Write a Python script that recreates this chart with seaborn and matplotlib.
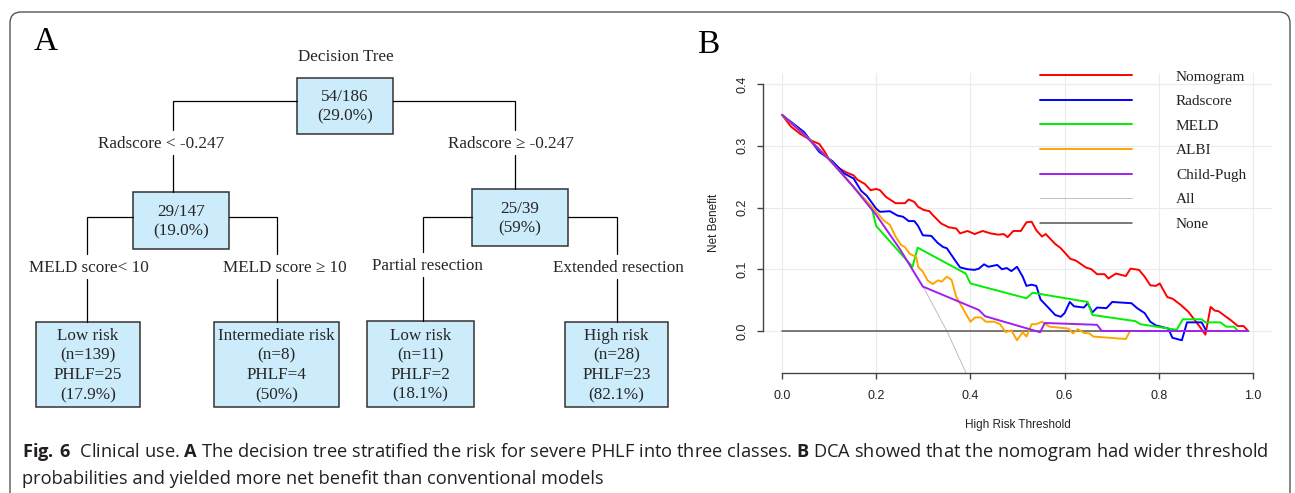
import matplotlib
matplotlib.use("Agg")
import matplotlib.pyplot as plt
from matplotlib.patches import FancyBboxPatch, Rectangle
from matplotlib.lines import Line2D
import numpy as np
import pandas as pd
import seaborn as sns

# ---------------- panel B: decision curves ----------------
nomogram_t = [0.000, 0.019, 0.039, 0.063, 0.079, 0.091, 0.099, 0.116, 0.136, 0.152, 0.160, 0.176,
              0.188, 0.200, 0.208, 0.221, 0.241, 0.261, 0.269, 0.281, 0.289, 0.301, 0.313, 0.321,
              0.338, 0.354, 0.370, 0.378, 0.394, 0.409, 0.426, 0.443, 0.459, 0.471, 0.479, 0.491,
              0.507, 0.519, 0.530, 0.540, 0.552, 0.560, 0.580, 0.592, 0.612, 0.624, 0.645, 0.657,
              0.669, 0.685, 0.693, 0.709, 0.730, 0.740, 0.758, 0.770, 0.782, 0.794, 0.802, 0.818,
              0.830, 0.847, 0.863, 0.887, 0.899, 0.910, 0.919, 0.927, 0.952, 0.968, 0.980, 0.990]
nomogram_nb = [0.350, 0.331, 0.319, 0.308, 0.303, 0.290, 0.279, 0.266, 0.257, 0.252, 0.245, 0.238,
               0.228, 0.230, 0.228, 0.217, 0.207, 0.207, 0.213, 0.209, 0.201, 0.196, 0.194, 0.187,
               0.174, 0.168, 0.166, 0.158, 0.162, 0.157, 0.162, 0.158, 0.156, 0.157, 0.152, 0.162,
               0.162, 0.176, 0.177, 0.163, 0.153, 0.157, 0.141, 0.134, 0.117, 0.114, 0.103, 0.100,
               0.092, 0.092, 0.085, 0.093, 0.089, 0.101, 0.099, 0.088, 0.074, 0.073, 0.077, 0.055,
               0.052, 0.042, 0.031, 0.007, -0.006, 0.039, 0.033, 0.032, 0.018, 0.008, 0.008, 0.000]

radscore_t = [0.000, 0.047, 0.079, 0.107, 0.132, 0.152, 0.168, 0.180, 0.200, 0.208, 0.229, 0.245,
              0.257, 0.269, 0.281, 0.289, 0.299, 0.317, 0.330, 0.342, 0.350, 0.366, 0.378, 0.394,
              0.409, 0.418, 0.429, 0.438, 0.457, 0.467, 0.477, 0.487, 0.499, 0.511, 0.519, 0.530,
              0.540, 0.549, 0.564, 0.580, 0.592, 0.600, 0.611, 0.620, 0.641, 0.649, 0.659, 0.669,
              0.689, 0.701, 0.742, 0.754, 0.770, 0.782, 0.794, 0.820, 0.829, 0.849, 0.860, 0.891,
              0.901, 0.990]
radscore_nb = [0.350, 0.322, 0.290, 0.275, 0.255, 0.247, 0.227, 0.219, 0.198, 0.193, 0.194, 0.187,
               0.185, 0.178, 0.178, 0.170, 0.155, 0.154, 0.143, 0.136, 0.134, 0.116, 0.103, 0.100,
               0.099, 0.101, 0.108, 0.104, 0.107, 0.100, 0.102, 0.097, 0.104, 0.088, 0.073, 0.075,
               0.073, 0.051, 0.039, 0.026, 0.023, 0.029, 0.047, 0.040, 0.038, 0.045, 0.030, 0.038,
               0.037, 0.047, 0.045, 0.037, 0.029, 0.015, 0.009, 0.004, -0.011, -0.015, 0.014, 0.014,
               0.000, 0.000]

meld_t = [0.000, 0.050, 0.100, 0.150, 0.191, 0.200, 0.277, 0.288, 0.390, 0.400, 0.519, 0.532,
          0.649, 0.659, 0.750, 0.761, 0.838, 0.851, 0.891, 0.899, 0.931, 0.943, 0.960, 0.968, 0.990]
meld_nb = [0.350, 0.316, 0.278, 0.235, 0.198, 0.170, 0.104, 0.135, 0.093, 0.077, 0.053, 0.062,
           0.047, 0.026, 0.016, 0.011, 0.002, 0.019, 0.019, 0.014, 0.014, 0.007, 0.007, 0.000, 0.000]

albi_t = [0.000, 0.050, 0.100, 0.150, 0.191, 0.216, 0.229, 0.241, 0.253, 0.261, 0.271, 0.285,
          0.289, 0.299, 0.309, 0.320, 0.331, 0.339, 0.350, 0.360, 0.370, 0.386, 0.400, 0.410,
          0.422, 0.433, 0.451, 0.463, 0.475, 0.487, 0.499, 0.511, 0.519, 0.530, 0.540, 0.552,
          0.568, 0.608, 0.618, 0.628, 0.641, 0.653, 0.661, 0.730, 0.739, 0.990]
albi_nb = [0.350, 0.316, 0.278, 0.235, 0.201, 0.179, 0.172, 0.153, 0.139, 0.136, 0.125, 0.120,
           0.104, 0.096, 0.082, 0.076, 0.082, 0.080, 0.088, 0.083, 0.055, 0.034, 0.015, 0.022,
           0.022, 0.015, 0.015, 0.011, -0.002, 0.001, -0.015, -0.002, -0.009, 0.011, 0.011, 0.015,
           0.007, 0.004, -0.004, 0.003, -0.003, -0.004, -0.009, -0.013, 0.000, 0.000]

childpugh_t = [0.000, 0.050, 0.100, 0.150, 0.200, 0.250, 0.299, 0.418, 0.431, 0.548, 0.558,
               0.669, 0.679, 0.990]
childpugh_nb = [0.350, 0.316, 0.278, 0.235, 0.188, 0.133, 0.072, 0.034, 0.024, -0.002, 0.013,
                0.010, 0.000, 0.000]

all_t = [0.000, 0.050, 0.100, 0.150, 0.200, 0.250, 0.300, 0.350, 0.392]
all_nb = [0.350, 0.316, 0.278, 0.235, 0.188, 0.133, 0.071, 0.000, -0.070]

none_t = [0.000, 0.990]
none_nb = [0.000, 0.000]

models = ["All", "None", "Nomogram", "Radscore", "MELD", "ALBI", "Child-Pugh"]
legend_order = ["Nomogram", "Radscore", "MELD", "ALBI", "Child-Pugh", "All", "None"]
curves = {
    "Nomogram": (nomogram_t, nomogram_nb),
    "Radscore": (radscore_t, radscore_nb),
    "MELD": (meld_t, meld_nb),
    "ALBI": (albi_t, albi_nb),
    "Child-Pugh": (childpugh_t, childpugh_nb),
    "All": (all_t, all_nb),
    "None": (none_t, none_nb),
}
colors = {"Nomogram": "#FF0000", "Radscore": "#0000FF", "MELD": "#00EE00", "ALBI": "#FFA500",
          "Child-Pugh": "#A020F0", "All": "#BEBEBE", "None": "#555555"}
widths = {"Nomogram": 1.4, "Radscore": 1.4, "MELD": 1.4, "ALBI": 1.4, "Child-Pugh": 1.4,
          "All": 0.7, "None": 1.1}

frames = []
for m in models:
    t, nb = curves[m]
    assert len(t) == len(nb), m
    frames.append(pd.DataFrame({"model": m, "threshold": t, "net_benefit": nb}))
dca = pd.concat(frames, ignore_index=True)

# ---------------- panel A: decision tree ----------------
box_text = ["54/186\n(29.0%)", "29/147\n(19.0%)", "25/39\n(59%)",
            "Low risk\n(n=139)\nPHLF=25\n(17.9%)", "Intermediate risk\n(n=8)\nPHLF=4\n(50%)",
            "Low risk\n(n=11)\nPHLF=2\n(18.1%)", "High risk\n(n=28)\nPHLF=23\n(82.1%)"]
split_text = ["Radscore < -0.247", "Radscore \u2265 -0.247", "MELD score< 10",
              "MELD score \u2265 10", "Partial resection", "Extended resection"]
branch_parent = [0, 0, 1, 1, 2, 2]
branch_child = [1, 2, 3, 4, 5, 6]

# layout in figure pixels (x0, y0, x1, y1), y downward
box_rect = [(297, 78, 393, 134), (133, 192, 229, 249), (472, 189, 568, 246),
            (36, 322, 140, 407), (214, 322, 339, 407), (367, 321, 474, 407), (565, 322, 668, 407)]
branch_y = [101, 101, 217, 217, 217, 217]
branch_x = [173, 515, 87, 277, 423, 617]
split_xy = [(161, 144), (511, 144), (89, 268), (285, 268), (427, 266), (618, 268)]

caption1 = (r"$\mathbf{Fig.\,6}$  Clinical use. $\mathbf{A}$ The decision tree stratified the risk for "
            r"severe PHLF into three classes. $\mathbf{B}$ DCA showed that the nomogram had wider threshold")
caption2 = "probabilities and yielded more net benefit than conventional models"

# ---------------- drawing ----------------
sns.set_theme(style="white")
plt.rcParams["font.family"] = ["Liberation Serif", "DejaVu Serif"]
plt.rcParams["mathtext.fontset"] = "custom"
plt.rcParams["mathtext.rm"] = "Open Sans"
plt.rcParams["mathtext.bf"] = "Open Sans:bold"

W, H = 1295, 493
fig = plt.figure(figsize=(W / 100, H / 100), dpi=100)
fig.patch.set_facecolor("white")

axt = fig.add_axes([0, 0, 1, 1])
axt.set_xlim(0, W)
axt.set_ylim(H, 0)
axt.axis("off")

# outer frame
axt.add_patch(FancyBboxPatch((10, 12), 1280, 520, boxstyle="round,pad=0,rounding_size=11",
                             fc="none", ec="#555555", lw=1.0))

serif = ["Liberation Serif", "DejaVu Serif"]
tree_fs = 12.3
axt.text(34, 50, "A", fontsize=24, family=serif, va="baseline", ha="left", color="black")
axt.text(697, 53, "B", fontsize=24, family=serif, va="baseline", ha="left", color="black")
axt.text(345.5, 57, "Decision Tree", fontsize=tree_fs, family=serif, ha="center", va="center")

for txt, (x0, y0, x1, y1) in zip(box_text, box_rect):
    axt.add_patch(Rectangle((x0, y0), x1 - x0, y1 - y0, fc="#CCEBFB", ec="#333333", lw=1.1))
    axt.text((x0 + x1) / 2, (y0 + y1) / 2 + 1, txt, fontsize=tree_fs, family=serif,
             ha="center", va="center", linespacing=1.3, multialignment="center")

for p, c, by, bx, lab, (lx, ly) in zip(branch_parent, branch_child, branch_y, branch_x,
                                        split_text, split_xy):
    px0, _, px1, _ = box_rect[p]
    start = px0 if bx < px0 else px1
    child_top = box_rect[c][1]
    axt.plot([start, bx, bx], [by, by, ly - 14], color="black", lw=0.9, solid_joinstyle="miter")
    axt.plot([bx, bx], [ly + 11, child_top], color="black", lw=0.9)
    axt.text(lx, ly, lab, fontsize=tree_fs, family=serif, ha="center", va="center")

# caption, sized to the width of the original first line
cap_color = "#231F20"
t1 = axt.text(22, 457, caption1, fontsize=11, family="Open Sans", va="baseline", ha="left",
              color=cap_color)
renderer = fig.canvas.get_renderer()
w1 = t1.get_window_extent(renderer).width
cap_fs = 11 * 1245 / w1
t1.set_fontsize(cap_fs)
axt.text(22, 484, caption2, fontsize=cap_fs, family="Open Sans", va="baseline", ha="left",
         color=cap_color)

# decision curve axes
x_lo, x_hi = -0.04, 1.04
y_lo, y_hi = -0.068, 0.418
ax_l, ax_r = 763.2, 1271.8
ax_b = 331 + 0.068 * 617.5
ax_t = 331 - 0.418 * 617.5
ax = fig.add_axes([ax_l / W, 1 - ax_b / H, (ax_r - ax_l) / W, (ax_b - ax_t) / H])
ax.set_facecolor("none")

handles = {}
for m in models:
    sub = dca[dca["model"] == m]
    sns.lineplot(data=sub, x="threshold", y="net_benefit", ax=ax, color=colors[m], lw=widths[m],
                 sort=False, estimator=None, legend=False)
    handles[m] = Line2D([], [], color=colors[m], lw=widths[m])

ax.set_xlim(x_lo, x_hi)
ax.set_ylim(y_lo, y_hi)
ax.set_xticks([0, 0.2, 0.4, 0.6, 0.8, 1.0])
ax.set_yticks([0, 0.1, 0.2, 0.3, 0.4])
ax.xaxis.set_major_formatter(matplotlib.ticker.FormatStrFormatter("%.1f"))
ax.yaxis.set_major_formatter(matplotlib.ticker.FormatStrFormatter("%.1f"))
ax.grid(True, color="#EBEBEB", lw=0.8)
ax.set_axisbelow(True)
for s in ["top", "right"]:
    ax.spines[s].set_visible(False)
ax.spines["left"].set_bounds(0, 0.4)
ax.spines["bottom"].set_bounds(0, 1)
for s in ["left", "bottom"]:
    ax.spines[s].set_color("#444444")
    ax.spines[s].set_linewidth(1.0)

sans = ["Liberation Sans", "DejaVu Sans"]
ax.tick_params(axis="both", direction="out", length=4.5, width=1.0, color="#444444",
               labelsize=9, labelcolor="#222222")
ax.tick_params(axis="x", pad=8, bottom=True)
ax.tick_params(axis="y", pad=6, left=True, labelrotation=90)
for lab in ax.get_xticklabels() + ax.get_yticklabels():
    lab.set_family(sans)
for lab in ax.get_yticklabels():
    lab.set_va("center")

ax.set_xlabel("High Risk Threshold", fontsize=8.5, family=sans, color="#222222", labelpad=12)
ax.set_ylabel("Net Benefit", fontsize=8.5, family=sans, color="#222222", labelpad=12)

leg = ax.legend([handles[m] for m in legend_order], legend_order, frameon=False,
                loc="upper left", bbox_to_anchor=(1040 / W, 1 - 70 / H),
                bbox_transform=fig.transFigure, borderpad=0, borderaxespad=0,
                prop={"family": serif, "size": 11}, handlelength=6.0, handletextpad=2.9,
                labelspacing=0.71)
for txt in leg.get_texts():
    txt.set_color("#222222")

fig.savefig("out.png", dpi=100)
